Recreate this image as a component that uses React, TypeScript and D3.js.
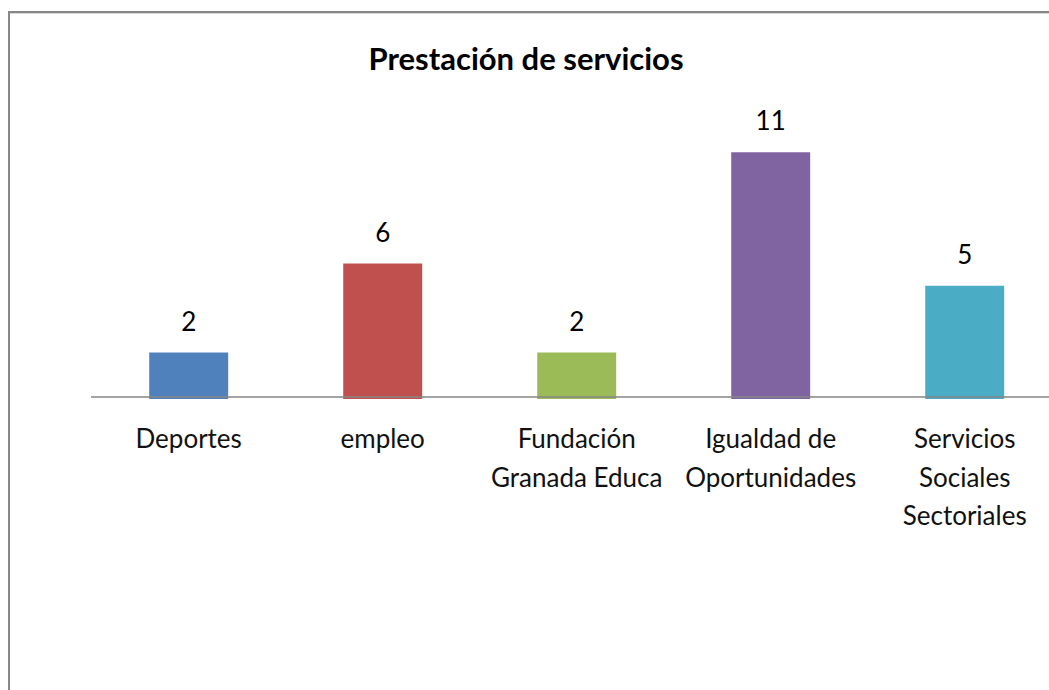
import React from "react";
import * as d3 from "d3";

const categories: string[][] = [
  ["Deportes"],
  ["empleo"],
  ["Fundación", "Granada Educa"],
  ["Igualdad de", "Oportunidades"],
  ["Servicios", "Sociales", "Sectoriales"],
];
const values: number[] = [2, 6, 2, 11, 5];
const colors: string[] = ["#4F81BD", "#C0504D", "#9BBB59", "#8064A2", "#4BACC6"];
const title = "Prestación de servicios";

const W = 1049;
const H = 690;
const FONT = "Lato, 'Open Sans', sans-serif";

export default function App() {
  const x = d3
    .scaleBand<number>()
    .domain(values.map((_, i) => i))
    .range([91.7, 91.7 + 194 * values.length])
    .paddingInner(0.593)
    .paddingOuter(0.2965);
  const y = d3.scaleLinear().domain([0, 12]).range([397, 397 - 12 * 22.25]);

  return (
    <svg
      width={W}
      height={H}
      style={{ position: "absolute", left: 0, top: 0, background: "#fff" }}
    >
      <rect x={0} y={0} width={W} height={H} fill="#fff" />
      <rect x={9} y={12} width={W + 20} height={H + 20} fill="none" stroke="#878787" strokeWidth={2} />
      <line x1={10} x2={W + 20} y1={13.5} y2={13.5} stroke="#d9d9d9" strokeWidth={1} />
      <text
        x={526}
        y={70}
        textAnchor="middle"
        fontFamily={FONT}
        fontWeight="bold"
        fontSize={31}
        fill="#000"
      >
        {title}
      </text>
      {values.map((v, i) => {
        const cx = (x(i) as number) + x.bandwidth() / 2;
        return (
          <g key={i}>
            <rect
              x={x(i)}
              y={y(v)}
              width={x.bandwidth()}
              height={y(0) - y(v) + 2}
              fill={colors[i]}
            />
            <text
              x={cx}
              y={y(v) - 22}
              textAnchor="middle"
              fontFamily={FONT}
              fontSize={26}
              fill="#000"
            >
              {v}
            </text>
            {categories[i].map((line, j) => (
              <text
                key={j}
                x={cx}
                y={448 + j * 38.5}
                textAnchor="middle"
                fontFamily={FONT}
                fontSize={26}
                fill="#111"
              >
                {line}
              </text>
            ))}
          </g>
        );
      })}
      <line x1={91} x2={W} y1={397} y2={397} stroke="#868686" strokeWidth={1.5} />
    </svg>
  );
}
